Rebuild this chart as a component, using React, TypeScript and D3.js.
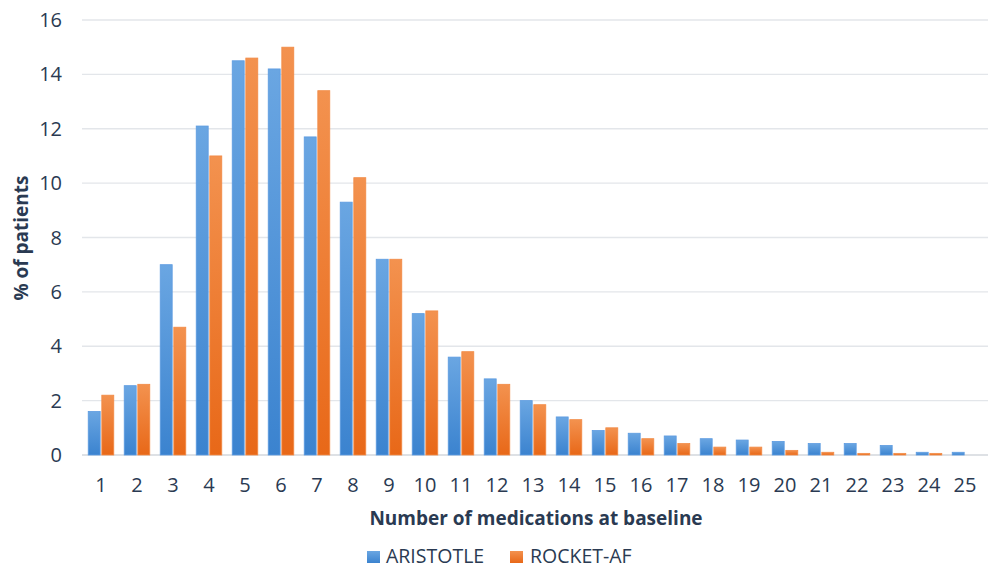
import React from "react";
import * as d3 from "d3";

const categories = ["1","2","3","4","5","6","7","8","9","10","11","12","13","14","15","16","17","18","19","20","21","22","23","24","25"];
const aristotle = [1.6, 2.55, 7.0, 12.1, 14.5, 14.2, 11.7, 9.3, 7.2, 5.2, 3.6, 2.8, 2.0, 1.4, 0.9, 0.8, 0.7, 0.6, 0.55, 0.5, 0.42, 0.42, 0.35, 0.1, 0.1];
const rocket = [2.2, 2.6, 4.7, 11.0, 14.6, 15.0, 13.4, 10.2, 7.2, 5.3, 3.8, 2.6, 1.85, 1.3, 1.0, 0.6, 0.42, 0.29, 0.29, 0.17, 0.1, 0.06, 0.06, 0.06, 0];
const yTicks = [0, 2, 4, 6, 8, 10, 12, 14, 16];
const seriesNames = ["ARISTOTLE", "ROCKET-AF"];

const W = 988, H = 569;
const left = 83, right = 983, top = 20, bottom = 455;
const FONT = "'Open Sans', 'Noto Sans', sans-serif";
const TEXT = "#2a3a52";

export default function App() {
  const x = d3.scaleBand<string>().domain(categories).range([left, right]).paddingInner(0.29).paddingOuter(0.145);
  const inner = d3.scaleBand<string>().domain(seriesNames).range([0, x.bandwidth()]).paddingInner(0.12);
  const y = d3.scaleLinear().domain([0, 16]).range([bottom, top]);
  const series = [aristotle, rocket];
  const fills = ["url(#gBlue)", "url(#gOrange)"];
  const strokes = ["#5c9be0", "#f28a45"];
  return (
    <svg width={W} height={H} style={{ position: "absolute", left: 0, top: 0, background: "#fff" }}>
      <defs>
        <linearGradient id="gBlue" x1="0" y1="0" x2="0" y2="1">
          <stop offset="0%" stopColor="#6aa6e2" />
          <stop offset="100%" stopColor="#3b83cf" />
        </linearGradient>
        <linearGradient id="gOrange" x1="0" y1="0" x2="0" y2="1">
          <stop offset="0%" stopColor="#f3924f" />
          <stop offset="100%" stopColor="#e86818" />
        </linearGradient>
      </defs>
      <rect x={0} y={0} width={W} height={H} fill="#fff" />
      {yTicks.map((t) => (
        <g key={t}>
          <line x1={left - 1} x2={right + 5} y1={y(t)} y2={y(t)} stroke={t === 0 ? "#d3d7dd" : "#e3e6ea"} strokeWidth={1.3} />
          <text x={62} y={y(t)} dy="0.35em" textAnchor="end" fontFamily={FONT} fontSize={20} fill={TEXT}>{t}</text>
        </g>
      ))}
      {categories.map((c, i) => (
        <g key={c}>
          {series.map((s, k) => {
            const v = s[i];
            if (v <= 0) return null;
            const bx = (x(c) as number) + (inner(seriesNames[k]) as number);
            return (
              <rect key={k} x={bx} y={y(v)} width={inner.bandwidth()} height={y(0) - y(v)} fill={fills[k]} stroke={strokes[k]} strokeWidth={0.8} />
            );
          })}
          <text x={(x(c) as number) + x.bandwidth() / 2} y={485} dy="0.35em" textAnchor="middle" fontFamily={FONT} fontSize={20} fill={TEXT}>{c}</text>
        </g>
      ))}
      <text x={536} y={518} dy="0.35em" textAnchor="middle" fontFamily={FONT} fontSize={19} fontWeight="bold" fill={TEXT}>Number of medications at baseline</text>
      <text transform={`translate(21,238) rotate(-90)`} dy="0.35em" textAnchor="middle" fontFamily={FONT} fontSize={19} fontWeight="bold" fill={TEXT}>% of patients</text>
      <g>
        <rect x={367} y={551} width={13} height={12} fill="url(#gBlue)" />
        <text x={386} y={556} dy="0.35em" fontFamily={FONT} fontSize={19.5} fill={TEXT}>ARISTOTLE</text>
        <rect x={510} y={551} width={13} height={12} fill="url(#gOrange)" />
        <text x={530} y={556} dy="0.35em" fontFamily={FONT} fontSize={19.5} fill={TEXT}>ROCKET-AF</text>
      </g>
    </svg>
  );
}
